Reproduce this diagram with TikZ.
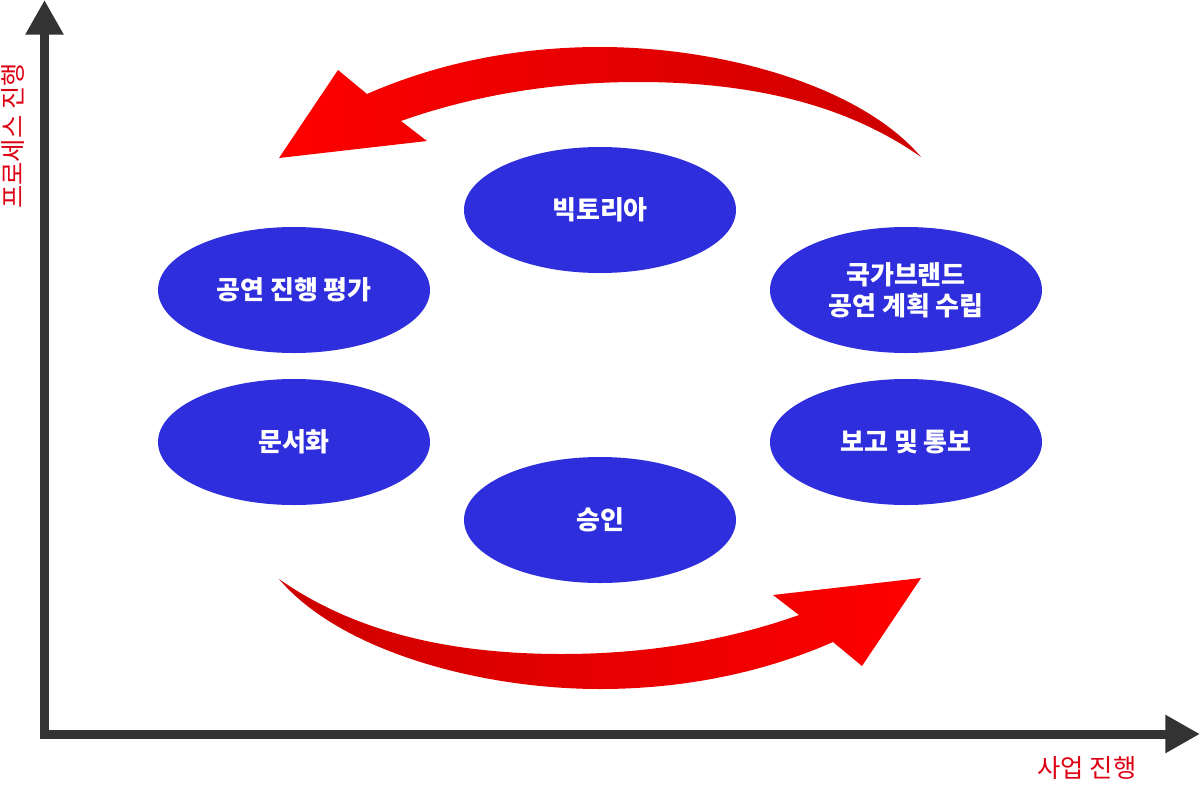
\documentclass[tikz,border=0pt]{standalone}
\usepackage{fontspec}
\setmainfont{Noto Sans CJK KR}
\usetikzlibrary{shapes.geometric,arrows.meta}
\definecolor{stepblue}{RGB}{46,46,220}
\definecolor{axisgray}{RGB}{51,51,51}
\definecolor{labelred}{RGB}{220,0,18}
\definecolor{arrowred}{RGB}{255,0,0}
\definecolor{arrowdark}{RGB}{205,0,0}

\begin{document}
\begin{tikzpicture}[x=0.75pt, y=-0.75pt,
    stage/.style = {ellipse, fill=stepblue, text=white,
      font=\fontsize{19.5}{23}\selectfont\bfseries,
      minimum width=204pt, minimum height=94.5pt, inner sep=0pt, align=center},
    axis label/.style = {text=labelred, font=\fontsize{19}{22}\selectfont},
    axis/.style = {draw=axisgray, line width=6.75pt, line join=miter,
      {Triangle[length=26pt,width=27pt]}-{Triangle[length=26pt,width=27pt]}},
    cycle arrow/.style = {left color=arrowred, right color=arrowdark, draw=none}
  ]
  \useasboundingbox (0,0) rectangle (1200,786);

  \coordinate (origin) at (44.5,734);
  \coordinate (ytip) at (44.5,0);
  \coordinate (xtip) at (1200,734);
  \draw[axis] (ytip) -- (origin) -- (xtip);
  \node[axis label, rotate=90] (ylabel) at (13,136) {프로세스 진행};
  \node[axis label] (xlabel) at (1087,768) {사업 진행};

  \node[stage] (victoria) at (600,210) {빅토리아};
  \node[stage] (eval)     at (294,290) {공연 진행 평가};
  \node[stage] (plan)     at (906,290) {국가브랜드\\공연 계획 수립};
  \node[stage] (docs)     at (294,442) {문서화};
  \node[stage] (report)   at (906,442) {보고 및 통보};
  \node[stage] (approve)  at (600,520) {승인};

  % cycle arrows
  \path[cycle arrow] (279,158) -- (338,70) -- (367,94)
    .. controls (440,62) and (520,47) .. (600,47)
    .. controls (720,47) and (860,85) .. (921,157)
    .. controls (840,100) and (740,82) .. (638,82)
    .. controls (540,82) and (460,100) .. (401,121)
    -- (427,141) -- cycle;
  \begin{scope}[rotate around={180:(600,368)}]
    \path[cycle arrow, left color=arrowdark, right color=arrowred]
      (279,158) -- (338,70) -- (367,94)
      .. controls (440,62) and (520,47) .. (600,47)
      .. controls (720,47) and (860,85) .. (921,157)
      .. controls (840,100) and (740,82) .. (638,82)
      .. controls (540,82) and (460,100) .. (401,121)
      -- (427,141) -- cycle;
  \end{scope}
\end{tikzpicture}
\end{document}
